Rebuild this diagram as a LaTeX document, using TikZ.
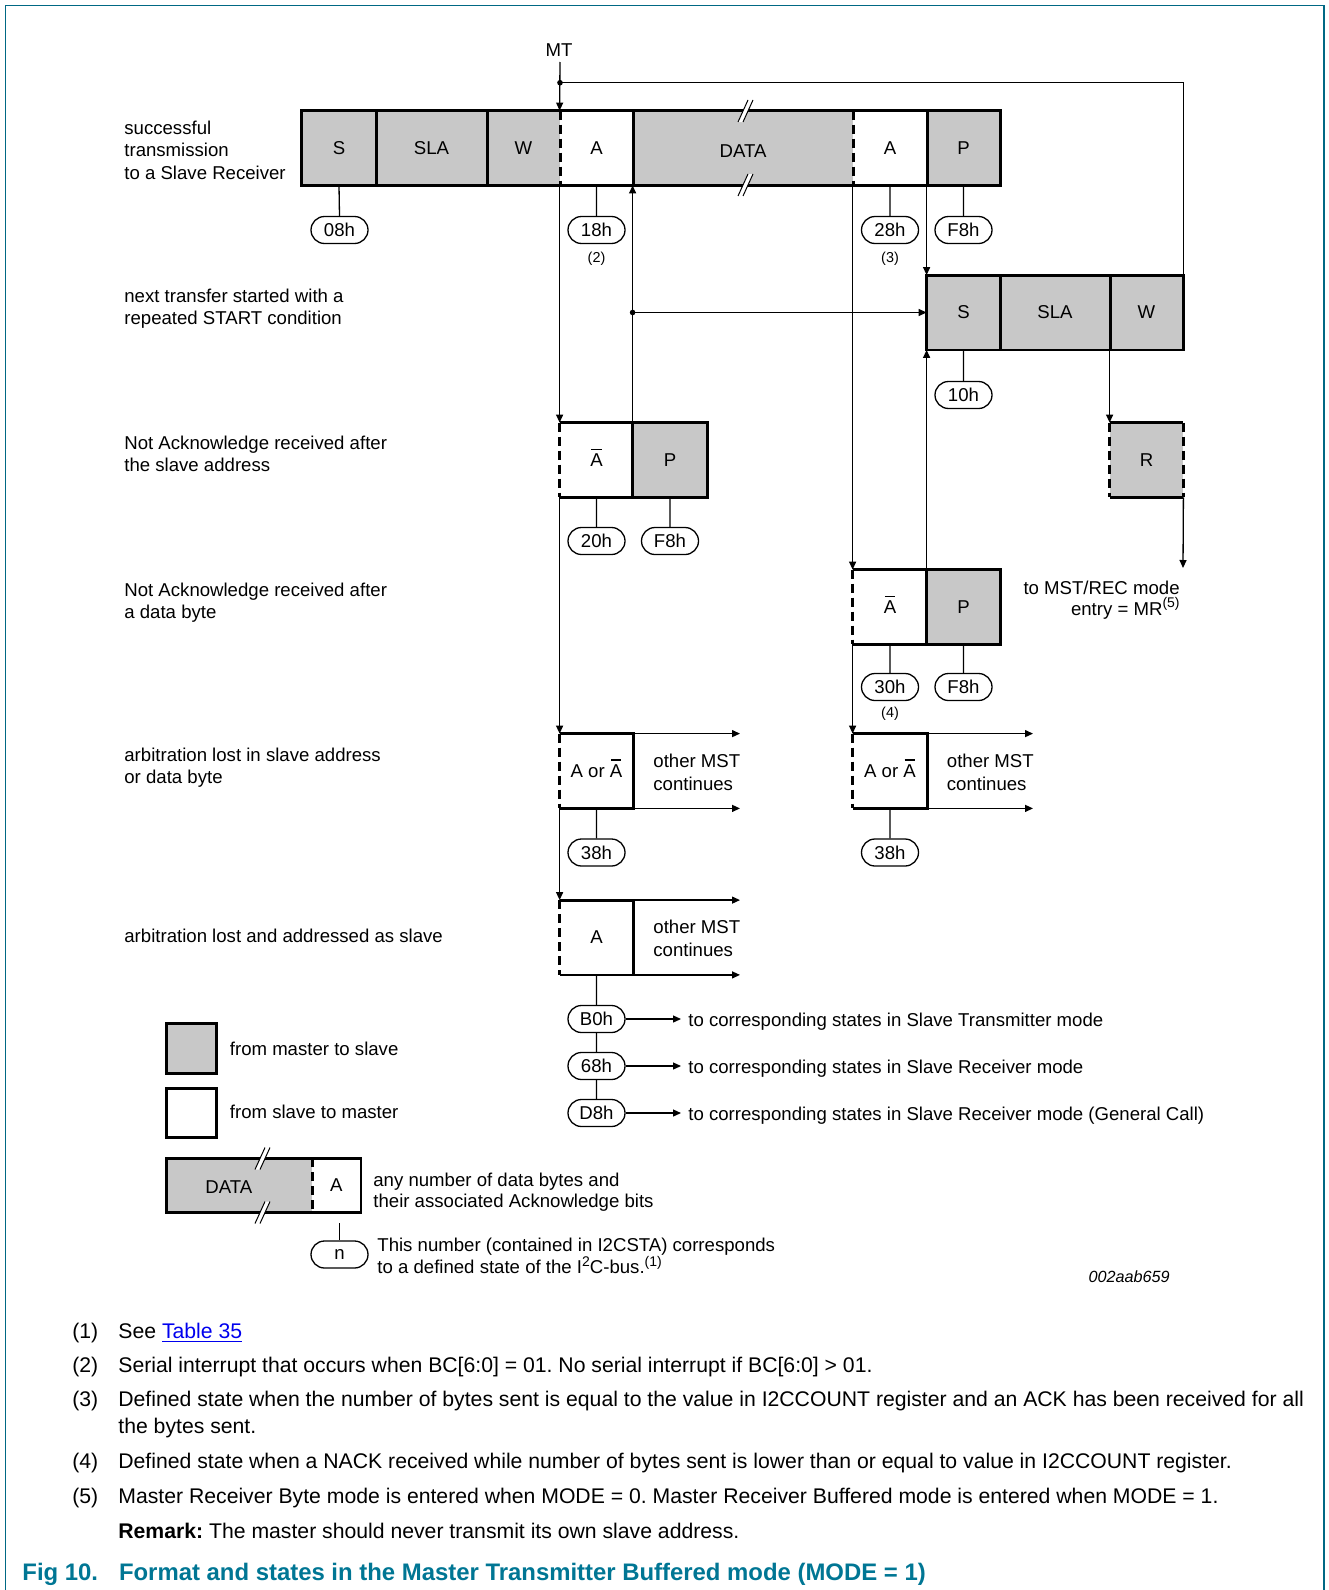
\documentclass[tikz,border=0pt]{standalone}
\usepackage{fontspec}
\setmainfont{Liberation Sans}
\usetikzlibrary{arrows.meta,shapes.misc}
\definecolor{boxgray}{RGB}{200,200,200}
\definecolor{frameteal}{RGB}{0,104,132}
\definecolor{titleteal}{RGB}{0,118,148}
\definecolor{linkblue}{RGB}{0,0,238}
\newcommand\lblfont{\fontsize{9.3}{11}\selectfont}
\newcommand\notefont{\fontsize{10.6}{12.7}\selectfont}
\newcommand\tinyfont{\fontsize{7.2}{8.6}\selectfont}
\newcommand\ttlfont{\fontsize{11.95}{14}\selectfont\bfseries}
\newcommand\idfont{\fontsize{8.1}{9.7}\selectfont\itshape}
\newcommand\sups[1]{\raisebox{0.4em}{\fontsize{7}{8}\selectfont #1}}
\newcommand\Abar{\makebox[0pt][l]{\hspace{0.06em}\smash{\rule[0.9em]{0.56em}{0.06em}}}A}
\frenchspacing
\tikzset{
  thk/.style={line width=1.4pt},
  thn/.style={line width=0.65pt},
  dsh/.style={line width=1.4pt, dash pattern=on 4.5pt off 2.5pt},
  cell/.style={rectangle, inner sep=0pt, minimum height=37pt, font=\lblfont},
  gcell/.style={cell, fill=boxgray},
  wcell/.style={cell, fill=white},
  stnode/.style={rounded rectangle, draw, thn, minimum width=28.5pt, minimum height=13.5pt, inner sep=0pt, font=\lblfont},
  arr/.style={thn, -{Triangle[length=4pt,width=3.5pt]}},
  lbl/.style={anchor=base west, inner sep=0pt, font=\lblfont},
  fnote/.style={anchor=base west, inner sep=0pt, font=\notefont},
  brk/.pic={
    \fill[white] (-9,11) -- (-4,11) -- (6,-11) -- (1,-11) -- cycle;
    \draw[line width=0.5pt] (-9,11) -- (1,-11) (-4,11) -- (6,-11);
  }
}
\begin{document}
\begin{tikzpicture}[x=0.5pt,y=-0.5pt]
\useasboundingbox (0,0) rectangle (1328,1590);
% frame
\draw[frameteal, line width=0.6pt] (5.5,1590) -- (5.5,5.5) -- (1324,5.5) -- (1324,1590);

% left labels
\node[lbl] (l1a) at (124,134) {successful};
\node[lbl] (l1b) at (124,156.5) {transmission};
\node[lbl] (l1c) at (124,179) {to a Slave Receiver};
\node[lbl] (l2a) at (124,302) {next transfer started with a};
\node[lbl] (l2b) at (124,324.5) {repeated START condition};
\node[lbl] (l3a) at (124,449) {Not Acknowledge received after};
\node[lbl] (l3b) at (124,471.5) {the slave address};
\node[lbl] (l4a) at (124,596) {Not Acknowledge received after};
\node[lbl] (l4b) at (124,618.5) {a data byte};
\node[lbl] (l5a) at (124,761) {arbitration lost in slave address};
\node[lbl] (l5b) at (124,783.5) {or data byte};
\node[lbl] (l6a) at (124,942.5) {arbitration lost and addressed as slave};

% row 1
\node[gcell, minimum width=37pt] (S1) at (339,148) {S};
\node[gcell, minimum width=55.5pt] (SLA1) at (431.5,148) {SLA};
\node[gcell, minimum width=36.5pt] (W1) at (523.5,148) {W};
\node[wcell, minimum width=36.5pt] (A1) at (596.5,148) {A};
\node[gcell, minimum width=110pt] (DATA1) at (743,148) {};
\node[wcell, minimum width=37pt] (A2) at (890,148) {A};
\node[gcell, minimum width=36.5pt] (P1) at (963.5,148) {P};
\node[inner sep=0pt, font=\lblfont] (tDATA) at (743,151) {DATA};
\draw[thk] (S1.north west) rectangle (P1.south east);
\draw[thk] (S1.north east) -- (S1.south east) (SLA1.north east) -- (SLA1.south east)
           (A1.north east) -- (A1.south east) (A2.north east) -- (A2.south east);
\draw[dsh] (W1.north east) -- (W1.south east) (DATA1.north east) -- (DATA1.south east);
\pic at (747,111) {brk};
\pic at (747,185) {brk};

% row 2
\node[gcell, minimum width=36.5pt] (S2) at (963.5,312.5) {S};
\node[gcell, minimum width=55pt] (SLA2) at (1055,312.5) {SLA};
\node[gcell, minimum width=36.5pt] (W2) at (1146.5,312.5) {W};
\draw[thk] (S2.north west) rectangle (W2.south east);
\draw[thk] (S2.north east) -- (S2.south east) (SLA2.north east) -- (SLA2.south east);

% row 3
\node[wcell, minimum width=36.5pt] (Ab1) at (596.5,460) {\Abar};
\node[gcell, minimum width=37pt] (P3) at (670,460) {P};
\draw[thk] (Ab1.south west) -- (P3.south east) -- (P3.north east) -- (Ab1.north west);
\draw[thk] (P3.north west) -- (P3.south west);
\draw[dsh] (Ab1.north west) -- (Ab1.south west);

\node[gcell, minimum width=36.5pt] (R) at (1146.5,460) {R};
\draw[thk] (R.north west) -- (R.north east) (R.south west) -- (R.south east);
\draw[dsh] (R.north west) -- (R.south west) (R.north east) -- (R.south east);

% row 4
\node[wcell, minimum width=37pt] (Ab2) at (890,607) {\Abar};
\node[gcell, minimum width=36.5pt] (P4) at (963.5,607) {P};
\draw[thk] (Ab2.south west) -- (P4.south east) -- (P4.north east) -- (Ab2.north west);
\draw[thk] (P4.north west) -- (P4.south west);
\draw[dsh] (Ab2.north west) -- (Ab2.south west);
\node[anchor=base east, inner sep=0pt, font=\lblfont] (mr1) at (1180,594) {to MST/REC mode};
\node[anchor=base east, inner sep=0pt, font=\lblfont] (mr2) at (1180,615) {entry = MR\sups{(5)}};

% row 5
\node[wcell, minimum width=36.5pt] (AoA1) at (596.5,771) {A or \Abar};
\draw[thk] (AoA1.south west) -- (AoA1.south east) -- (AoA1.north east) -- (AoA1.north west);
\draw[dsh] (AoA1.north west) -- (AoA1.south west);
\node[wcell, minimum width=37pt] (AoA2) at (890,771) {A or \Abar};
\draw[thk] (AoA2.south west) -- (AoA2.south east) -- (AoA2.north east) -- (AoA2.north west);
\draw[dsh] (AoA2.north west) -- (AoA2.south west);
\node[lbl] (om1a) at (653,767.5) {other MST};
\node[lbl] (om1b) at (653,790) {continues};
\node[lbl] (om2a) at (946.5,767.5) {other MST};
\node[lbl] (om2b) at (946.5,790) {continues};

% row 6
\node[wcell, minimum width=36.5pt] (A6) at (596.5,937.5) {A};
\draw[thk] (A6.south west) -- (A6.south east) -- (A6.north east) -- (A6.north west);
\draw[dsh] (A6.north west) -- (A6.south west);
\node[lbl] (om3a) at (653,933.5) {other MST};
\node[lbl] (om3b) at (653,956) {continues};

% state ovals
\node[stnode] (s08) at (339.5,230) {08h};
\node[stnode] (s18) at (596.5,230) {18h};
\node[stnode] (s28) at (890,230) {28h};
\node[stnode] (sF8a) at (963.5,230) {F8h};
\node[stnode] (s10) at (963.5,395) {10h};
\node[stnode] (s20) at (596.5,541) {20h};
\node[stnode] (sF8b) at (670,541) {F8h};
\node[stnode] (s30) at (890,687) {30h};
\node[stnode] (sF8c) at (963.5,687) {F8h};
\node[stnode] (s38a) at (596.5,852.5) {38h};
\node[stnode] (s38b) at (890,852.5) {38h};
\node[stnode] (sB0) at (596.5,1019) {B0h};
\node[stnode] (s68) at (596.5,1066) {68h};
\node[stnode] (sD8) at (596.5,1113) {D8h};
\node[inner sep=0pt, font=\tinyfont] (fn2) at (596.5,259) {(2)};
\node[inner sep=0pt, font=\tinyfont] (fn3) at (890,259) {(3)};
\node[inner sep=0pt, font=\tinyfont] (fn4) at (890,714) {(4)};

\draw[thn] (S1.south) -- (s08.north) (A1.south) -- (s18.north) (A2.south) -- (s28.north)
           (P1.south) -- (sF8a.north) (S2.south) -- (s10.north) (Ab1.south) -- (s20.north)
           (P3.south) -- (sF8b.north) (Ab2.south) -- (s30.north) (P4.south) -- (sF8c.north)
           (AoA1.south) -- (s38a.north) (AoA2.south) -- (s38b.north)
           (A6.south) -- (sB0.north) (sB0.south) -- (s68.north) (s68.south) -- (sD8.north);

% MT and connectors
\node[inner sep=0pt, font=\lblfont] (MT) at (559,50) {MT};
\coordinate (mt) at (560,62);
\coordinate (d1) at (560,82.7);
\draw[arr] (mt) -- (A1.north west);
\draw[thn] (d1) -- (d1 -| W2.north east) -- (W2.north east);
\fill (d1) circle[radius=1.4pt];
\draw[arr] (A1.south west) -- (Ab1.north west);
\draw[arr] (Ab1.south west) -- (AoA1.north west);
\draw[arr] (AoA1.south west) -- (A6.north west);
\draw[arr] (P3.north west) -- (DATA1.south west);
\coordinate (d2) at (P3.north west |- S2.west);
\draw[arr] (d2) -- (S2.west);
\fill (d2) circle[radius=1.4pt];
\draw[arr] (A2.south west) -- (Ab2.north west);
\draw[arr] (Ab2.south west) -- (AoA2.north west);
\draw[arr] (P1.south west) -- (S2.north west);
\draw[arr] (P4.north west) -- (S2.south west);
\draw[arr] (W2.south west) -- (R.north west);
\coordinate (mrend) at (1183,568);
\draw[arr] (R.south east) -- (mrend);

\coordinate (e1) at (740,734);
\coordinate (e2) at (740,808);
\coordinate (e3) at (1033,734);
\coordinate (e4) at (1033,808);
\coordinate (e5) at (740,900.5);
\coordinate (e6) at (740,974.5);
\draw[arr] (AoA1.north east) -- (e1 |- AoA1.north east);
\draw[arr] (AoA1.south east) -- (e2 |- AoA1.south east);
\draw[arr] (AoA2.north east) -- (e3 |- AoA2.north east);
\draw[arr] (AoA2.south east) -- (e4 |- AoA2.south east);
\draw[arr] (A6.north east) -- (e5 |- A6.north east);
\draw[arr] (A6.south east) -- (e6 |- A6.south east);

\coordinate (t1) at (681,1019);
\coordinate (t2) at (681,1066);
\coordinate (t3) at (681,1113);
\draw[arr] (sB0.east) -- (t1);
\draw[arr] (s68.east) -- (t2);
\draw[arr] (sD8.east) -- (t3);
\node[lbl] (tx1) at (688,1026) {to corresponding states in Slave Transmitter mode};
\node[lbl] (tx2) at (688,1073) {to corresponding states in Slave Receiver mode};
\node[lbl] (tx3) at (688,1120) {to corresponding states in Slave Receiver mode (General Call)};

% legend
\node[draw, thk, fill=boxgray, minimum width=24.85pt, minimum height=24.65pt, inner sep=0pt] (lg1) at (191.5,1048.5) {};
\node[draw, thk, fill=white, minimum width=24.85pt, minimum height=24.65pt, inner sep=0pt] (lg2) at (191.5,1113) {};
\node[lbl] (lgt1) at (229.5,1055) {from master to slave};
\node[lbl] (lgt2) at (229.5,1118.5) {from slave to master};

\node[gcell, minimum width=72.7pt, minimum height=26.7pt] (lgD) at (239.3,1185.5) {};
\node[wcell, minimum width=24.3pt, minimum height=26.7pt] (lgA) at (336.3,1185.5) {A};
\node[inner sep=0pt, font=\lblfont] (lgDt) at (228.8,1187.5) {DATA};
\draw[thk] (lgD.north west) rectangle (lgA.south east);
\draw[dsh] (lgD.north east) -- (lgD.south east);
\pic at (264,1158.5) {brk};
\pic at (264,1212.5) {brk};
\node[lbl] (lgt3) at (373,1186) {any number of data bytes and};
\node[lbl] (lgt4) at (373,1207.5) {their associated Acknowledge bits};

\node[stnode] (sn) at (339.5,1254.5) {n};
\coordinate (nstem) at (339.5,1223);
\draw[thn] (nstem) -- (sn.north);
\node[lbl] (lgt5) at (377,1251) {This number (contained in I2CSTA) corresponds};
\node[lbl] (lgt6) at (377,1273.5) {to a defined state of the I\sups{2}C-bus.\sups{(1)}};

\node[anchor=base east, inner sep=0pt, font=\idfont] (fid) at (1170,1282) {002aab659};

% footnotes
\node[fnote] (n1) at (72,1338.5) {(1)};
\node[fnote] (n1t) at (118,1338.5) {See \textcolor{linkblue}{\underline{Table 35}}};
\node[fnote] (n2) at (72,1372) {(2)};
\node[fnote] (n2t) at (118,1372) {Serial interrupt that occurs when BC[6:0] = 01. No serial interrupt if BC[6:0] > 01.};
\node[fnote] (n3) at (72,1406.5) {(3)};
\node[fnote] (n3t) at (118,1406.5) {Defined state when the number of bytes sent is equal to the value in I2CCOUNT register and an ACK has been received for all};
\node[fnote] (n3u) at (118,1433.5) {the bytes sent.};
\node[fnote] (n4) at (72,1468.5) {(4)};
\node[fnote] (n4t) at (118,1468.5) {Defined state when a NACK received while number of bytes sent is lower than or equal to value in I2CCOUNT register.};
\node[fnote] (n5) at (72,1503.5) {(5)};
\node[fnote] (n5t) at (118,1503.5) {Master Receiver Byte mode is entered when MODE = 0. Master Receiver Buffered mode is entered when MODE = 1.};
\node[fnote] (rem) at (118,1538.5) {\textbf{Remark:} The master should never transmit its own slave address.};
\node[anchor=base west, inner sep=0pt, font=\ttlfont, text=titleteal] (fig) at (22,1580) {Fig 10.};
\node[anchor=base west, inner sep=0pt, font=\ttlfont, text=titleteal] (figt) at (118.6,1580) {Format and states in the Master Transmitter Buffered mode (MODE = 1)};
\end{tikzpicture}
\end{document}
